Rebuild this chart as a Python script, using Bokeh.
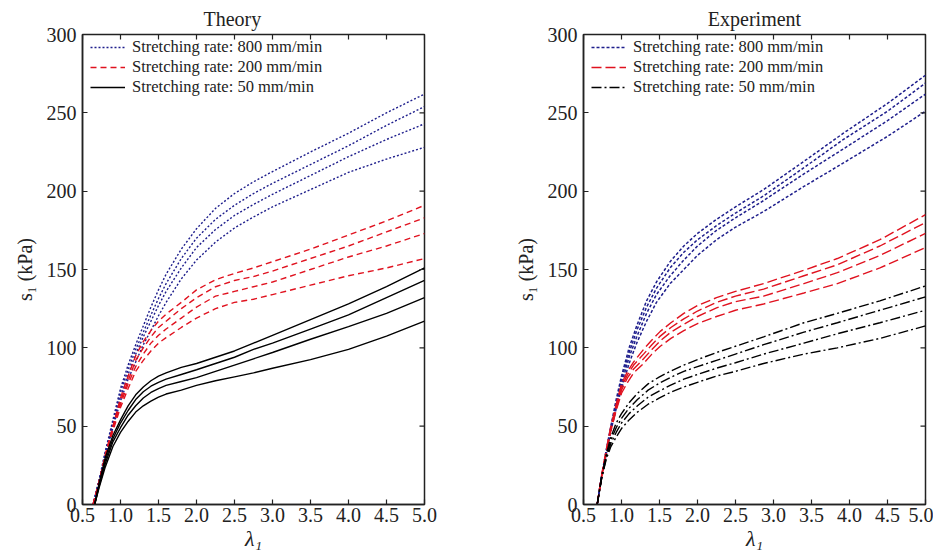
import math
from bokeh.plotting import figure
from bokeh.layouts import row
from bokeh.models import Range1d, FixedTicker, NumeralTickFormatter, Legend, Title
from bokeh.embed import file_html
from bokeh.resources import INLINE

# ---------------- data ----------------
titles = ["Theory", "Experiment"]
legend_labels = ["Stretching rate: 800 mm/min", "Stretching rate: 200 mm/min", "Stretching rate: 50 mm/min"]
x_ticks = [0.5, 1.0, 1.5, 2.0, 2.5, 3.0, 3.5, 4.0, 4.5, 5.0]
y_ticks = [0, 50, 100, 150, 200, 250, 300]

# Theory
th_lam_800 = [0.64, 0.72, 0.8, 0.9, 1.0, 1.1, 1.2, 1.3, 1.4, 1.5, 1.6, 1.8, 2.0, 2.25, 2.5, 2.75, 3.0, 3.5, 4.0, 4.5, 5.0]
th_800 = [
    [0, 16, 34, 54, 74, 89, 102, 114, 126, 137, 147, 163, 176, 189, 198.5, 206, 212.5, 225, 237, 250, 262],
    [0, 16, 33, 52, 72, 86, 99, 110, 121, 131.5, 141, 157, 170, 182, 191, 198.5, 205, 217, 229, 242, 254],
    [0, 15, 32, 51, 69, 83, 96, 107, 117, 127, 136, 151, 164, 175.5, 184.5, 191.5, 198, 210, 222, 233, 243],
    [0, 15, 31, 49, 66, 80, 91, 102, 111, 120.5, 129, 144, 156, 167.5, 176.5, 183.5, 190, 201, 212, 220.5, 228],
]
th_lam_200 = [0.64, 0.72, 0.8, 0.9, 1.0, 1.1, 1.2, 1.3, 1.4, 1.5, 1.6, 1.8, 2.0, 2.25, 2.5, 2.75, 3.0, 3.5, 4.0, 4.5, 5.0]
th_200 = [
    [0, 15, 32, 50, 68, 82, 95, 104, 111, 117, 121.5, 129, 137, 143.5, 147.5, 151, 155, 163, 172, 181, 191],
    [0, 15, 31, 49, 66, 79, 92, 100, 107, 113, 117, 125, 132, 139, 143, 145.5, 149, 157, 165, 174, 183],
    [0, 14, 31, 48, 64, 77, 88, 96, 103, 108, 112, 119, 126, 133, 136, 139, 142, 150, 158, 165, 173],
    [0, 14, 30, 47, 62, 74, 85, 92, 98, 103, 106.5, 113, 119, 125, 129, 131, 134, 140, 146, 151, 157],
]
th_lam_50 = [0.66, 0.72, 0.8, 0.9, 1.0, 1.1, 1.2, 1.3, 1.4, 1.5, 1.6, 1.8, 2.0, 2.25, 2.5, 2.75, 3.0, 3.5, 4.0, 4.5, 5.0]
th_50 = [
    [0, 14, 30, 44, 54, 63, 70, 75, 79, 82, 84, 87.5, 90, 94, 98, 103, 108, 118, 128, 139, 151],
    [0, 13, 28, 42, 52, 60, 67, 72, 75.5, 78, 80, 83, 86, 90, 94, 99, 103, 112, 121, 132, 143],
    [0, 12, 26, 40, 49, 57, 63, 68, 71.5, 74, 76, 78.5, 81, 85, 89, 93, 97, 105.5, 113.5, 122, 132],
    [0, 11, 24, 37, 46, 53, 59, 63, 66, 68.5, 70.5, 73, 76, 79, 81.5, 84, 87, 92.5, 99, 107.5, 117],
]

# Experiment
ex_lam_800 = [0.68, 0.74, 0.8, 0.86, 0.93, 1.0, 1.1, 1.2, 1.33, 1.46, 1.64, 1.82, 2.0, 2.25, 2.5, 2.87, 3.4, 3.92, 4.5, 5.0]
ex_800 = [
    [0, 19, 35, 50, 67, 82, 100, 114, 130, 142, 155, 165, 173, 182, 190, 201, 219, 237, 256, 274],
    [0, 19, 34, 49, 65, 80, 97, 111, 126, 138, 151, 161, 169, 178, 186, 197, 215, 233, 251, 269],
    [0, 18, 33, 48, 63, 77, 94, 107, 122, 134, 146, 156, 165, 175, 183, 194, 211, 227, 245, 262],
    [0, 18, 32, 47, 61, 74, 90, 103, 117, 129, 141, 150, 159, 169, 177, 187, 203, 218, 235, 251],
]
ex_lam_200 = [0.68, 0.74, 0.8, 0.86, 0.93, 1.0, 1.08, 1.16, 1.29, 1.4, 1.51, 1.65, 1.82, 2.0, 2.25, 2.5, 2.87, 3.4, 3.84, 4.4, 5.0]
ex_200 = [
    [0, 19, 35, 50, 64, 77, 85, 91, 99, 105, 110.5, 116, 122, 127, 132, 136, 141, 149.5, 157, 169, 185],
    [0, 19, 34, 49, 62, 75, 83, 89, 96, 102, 107.5, 113, 118.5, 123.5, 129, 133, 137.5, 146, 153, 165, 180],
    [0, 18, 34, 48, 61, 73, 81, 86.5, 93, 99, 104.5, 110, 115, 120, 125.5, 129.5, 133, 141, 148, 159, 173],
    [0, 18, 33, 47, 60, 71, 78, 84, 90, 96, 101, 106, 111, 115.5, 120, 124, 128, 135, 141, 151, 164],
]
ex_lam_50 = [0.68, 0.74, 0.8, 0.86, 0.93, 1.0, 1.1, 1.21, 1.35, 1.5, 1.64, 1.82, 2.0, 2.25, 2.5, 2.87, 3.4, 3.84, 4.4, 5.0]
ex_50 = [
    [0, 18, 32, 43, 52, 58, 65, 71, 77, 81.5, 85, 89, 92.5, 97, 101, 107, 116, 122, 130, 139.5],
    [0, 18, 31, 41, 49, 55, 61.5, 67, 73, 77.5, 81, 85, 88, 92, 96, 102, 110, 116, 124, 132.5],
    [0, 17, 30, 39, 46, 52, 58, 63, 68.5, 72.5, 76, 80, 83, 87, 90.5, 96, 103, 109, 116, 124],
    [0, 17, 29, 37, 43, 48.5, 54, 59, 64, 68, 71.5, 75, 78, 82, 85, 90, 96, 100, 106, 114],
]

# ---------------- styles ----------------
FONT = "Liberation Serif"
BLUE = "#1e1e8c"
RED = "#e0121f"
BLACK = "#000000"
AX = "#222222"

theory_styles = [(BLUE, "2 2", 1.4), (RED, "6 4", 1.4), (BLACK, "solid", 1.4)]
exp_styles = [(BLUE, "3 2", 1.5), (RED, "10 4", 1.4), (BLACK, "10 3 2 3", 1.4)]


def make_fig(title, groups, styles, width, left, right, title_align, title_offset):
    p = figure(width=width, height=554, output_backend="svg", toolbar_location=None,
               x_range=Range1d(0.5, 5.0), y_range=Range1d(0, 300),
               min_border_left=left, min_border_right=right, min_border_top=33, min_border_bottom=50)
    p.title = Title(text=title, align=title_align, text_font=FONT, text_font_size="20px",
                    text_font_style="normal", text_color=AX, standoff=10, offset=title_offset)
    p.grid.visible = False
    p.outline_line_color = AX
    p.outline_line_width = 1.5
    p.background_fill_color = "white"
    p.border_fill_color = "white"

    items = []
    for (lam, curves), (col, dash, lw), lab in zip(groups, styles, legend_labels):
        rs = []
        for ys in curves:
            r = p.line(lam, ys, line_color=col, line_dash=dash, line_width=lw)
            rs.append(r)
        items.append((lab, [rs[0]]))

    # inward ticks on the top and right edges of the box (half of each dash is clipped by the frame)
    p.scatter(x=x_ticks, y=[y_ticks[-1]] * len(x_ticks), marker="dash", angle=math.pi / 2,
              size=10, line_color=AX, line_width=1.2)
    p.scatter(x=[x_ticks[-1]] * len(y_ticks), y=y_ticks, marker="dash",
              size=10, line_color=AX, line_width=1.2)

    for ax in (p.xaxis[0], p.yaxis[0]):
        ax.major_tick_in = 5
        ax.major_tick_out = 0
        ax.minor_tick_line_color = None
        ax.axis_line_color = AX
        ax.axis_line_width = 1.5
        ax.major_tick_line_color = AX
        ax.major_tick_line_width = 1.2
        ax.major_label_text_font = FONT
        ax.major_label_text_font_size = "20px"
        ax.major_label_text_color = AX
        ax.axis_label_text_font = FONT
        ax.axis_label_text_color = AX
    p.xaxis[0].ticker = FixedTicker(ticks=x_ticks)
    p.xaxis[0].formatter = NumeralTickFormatter(format="0.0")
    p.xaxis[0].major_label_standoff = 3
    p.xaxis[0].axis_label = "λ₁"
    p.xaxis[0].axis_label_text_font_size = "22px"
    p.xaxis[0].axis_label_text_font_style = "italic"
    p.xaxis[0].axis_label_standoff = 1
    p.yaxis[0].ticker = FixedTicker(ticks=y_ticks)
    p.yaxis[0].major_label_standoff = 6
    p.yaxis[0].axis_label = "s₁ (kPa)"
    p.yaxis[0].axis_label_text_font_size = "20px"
    p.yaxis[0].axis_label_text_font_style = "normal"
    p.yaxis[0].axis_label_standoff = 8

    leg = Legend(items=items, location=(8, 407), glyph_width=35, glyph_height=20,
                 label_height=20, label_standoff=7, spacing=0, padding=0, margin=0,
                 label_text_font=FONT, label_text_font_size="16.5px", label_text_color=AX,
                 border_line_color=None, background_fill_alpha=0.0)
    p.add_layout(leg, "center")
    return p


p1 = make_fig(titles[0],
              [(th_lam_800, th_800), (th_lam_200, th_200), (th_lam_50, th_50)],
              theory_styles, 464, 82, 40, "left", 121)
p2 = make_fig(titles[1],
              [(ex_lam_800, ex_800), (ex_lam_200, ex_200), (ex_lam_50, ex_50)],
              exp_styles, 469, 119, 8, "center", 0)

layout = row(p1, p2)
open("out.html", "w").write(file_html(layout, INLINE))
